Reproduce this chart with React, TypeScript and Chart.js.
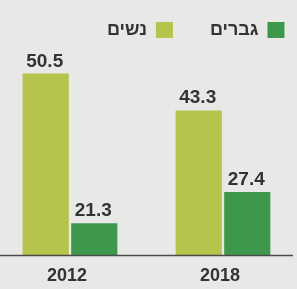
import React, { useEffect, useRef } from 'react';
import { Chart, registerables } from 'chart.js';

Chart.register(...registerables);

// ---- data ----
const years = ['2012', '2018'];
const womenLabel = 'נשים';
const menLabel = 'גברים';
const womenValues = [50.5, 43.3];
const menValues = [21.3, 27.4];

// ---- axis bounds (visual baseline of the infographic is not zero) ----
const yMin = 15;
const yMax = 55.3;

const CANVAS_W = 360;
const CANVAS_H = 289;
const BG = '#e8e8e6';
const LIGHT_GREEN = '#b6c44c';
const DARK_GREEN = '#3d984c';
const TEXT = '#333333';

export default function App() {
  const ref = useRef<HTMLCanvasElement | null>(null);

  useEffect(() => {
    if (!ref.current) return;

    const bgPlugin = {
      id: 'bgPlugin',
      beforeDraw(chart: any) {
        const { ctx, width, height } = chart;
        ctx.save();
        ctx.fillStyle = BG;
        ctx.fillRect(0, 0, width, height);
        ctx.restore();
      },
    };

    const baselinePlugin = {
      id: 'baselinePlugin',
      afterDatasetsDraw(chart: any) {
        const { ctx } = chart;
        const y = chart.scales.y.getPixelForValue(yMin);
        ctx.save();
        ctx.strokeStyle = '#4a4a4a';
        ctx.lineWidth = 1.5;
        ctx.beginPath();
        ctx.moveTo(0, y);
        ctx.lineTo(293, y);
        ctx.stroke();
        ctx.restore();
      },
    };

    const valueLabelPlugin = {
      id: 'valueLabelPlugin',
      afterDatasetsDraw(chart: any) {
        const { ctx } = chart;
        ctx.save();
        ctx.fillStyle = TEXT;
        ctx.font = 'bold 19px "Liberation Sans", Arial, sans-serif';
        ctx.textAlign = 'center';
        ctx.textBaseline = 'alphabetic';
        chart.data.datasets.forEach((ds: any, i: number) => {
          const meta = chart.getDatasetMeta(i);
          meta.data.forEach((el: any, j: number) => {
            ctx.fillText(String(ds.data[j]), el.x - 1, el.y - 7);
          });
        });
        ctx.restore();
      },
    };

    const barClip = { left: false, right: false, top: false, bottom: 0 };

    const chart = new Chart(ref.current, {
      type: 'bar',
      data: {
        labels: years,
        datasets: [
          {
            label: womenLabel,
            data: womenValues,
            backgroundColor: LIGHT_GREEN,
            borderWidth: 0,
            categoryPercentage: 0.635,
            barPercentage: 0.95,
            clip: barClip as any,
          },
          {
            label: menLabel,
            data: menValues,
            backgroundColor: DARK_GREEN,
            borderWidth: 0,
            categoryPercentage: 0.635,
            barPercentage: 0.95,
            clip: barClip as any,
          },
        ],
      },
      options: {
        responsive: false,
        animation: false,
        devicePixelRatio: 1,
        layout: { padding: { left: 70, top: -16, right: 0, bottom: -8 } },
        plugins: {
          legend: {
            display: true,
            position: 'top',
            align: 'end',
            rtl: true,
            textDirection: 'rtl',
            reverse: true,
            labels: {
              boxWidth: 17,
              boxHeight: 16,
              padding: 37,
              color: TEXT,
              font: { family: '"Liberation Sans", Arial, sans-serif', size: 18, weight: 'bold' },
            },
          },
          tooltip: { enabled: false },
        },
        scales: {
          x: {
            type: 'category',
            offset: false,
            grid: { display: false, drawTicks: false },
            border: { display: false },
            ticks: {
              color: TEXT,
              padding: 10,
              labelOffset: -3,
              maxRotation: 0,
              autoSkip: false,
              font: { family: '"Liberation Sans", Arial, sans-serif', size: 18, weight: 'bold' },
            },
          },
          y: {
            position: 'right',
            min: yMin,
            max: yMax,
            grid: { display: false, drawTicks: false },
            border: { display: false },
            ticks: { display: false },
            afterFit: (scale: any) => {
              scale.width = CANVAS_W - 223;
            },
          },
        },
      } as any,
      plugins: [bgPlugin, baselinePlugin, valueLabelPlugin],
    });

    return () => chart.destroy();
  }, []);

  return (
    <div
      style={{
        position: 'absolute',
        left: 0,
        top: 0,
        width: 297,
        height: 289,
        overflow: 'hidden',
        background: BG,
      }}
    >
      <canvas ref={ref} width={CANVAS_W} height={CANVAS_H} style={{ display: 'block' }} />
    </div>
  );
}
